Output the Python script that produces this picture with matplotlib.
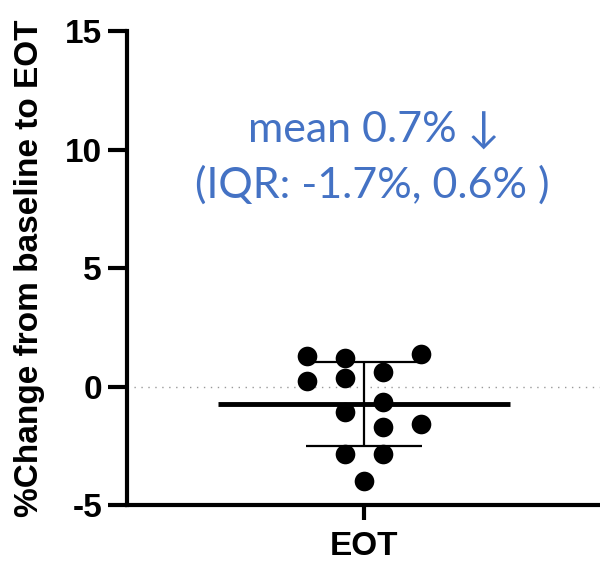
import numpy as np
import matplotlib
matplotlib.use("Agg")
import matplotlib.pyplot as plt

# values (% change, baseline to EOT)
values = [1.29, 1.19, 1.36, 0.23, 0.35, 0.60, -0.64, -1.06, -1.70, -1.58, -2.85, -2.85, -3.97]
# swarm column of each point (in units of one dot spacing)
columns = [-1.5, -0.5, 1.5, -1.5, -0.5, 0.5, 0.5, -0.5, 0.5, 1.5, -0.5, 0.5, 0.0]
category = "EOT"
yticks = [-5, 0, 5, 10, 15]
note = ["mean 0.7% \u2193", "(IQR: -1.7%, 0.6% )"]

vals = np.array(values)
mean = vals.mean()
sd = vals.std(ddof=1)

fig = plt.figure(figsize=(6, 5.67), dpi=100)
ax = fig.add_axes([0.2117, 0.1093, 0.79, 0.836])

spacing = 0.16
ax.axhline(0, color="#999999", lw=1, ls=(0, (1, 4)), zorder=1)
ax.scatter(np.array(columns) * spacing, vals, s=200, color="black", zorder=3, linewidths=0)
ax.plot([-0.616, 0.616], [mean, mean], color="black", lw=3.5, zorder=4, solid_capstyle="butt")
ax.errorbar([0], [mean], yerr=[[sd], [sd]], fmt="none", ecolor="black",
            elinewidth=1.6, capsize=42, capthick=1.6, zorder=4)

lab = dict(fontsize=24, fontweight="bold", family="Liberation Sans")
ax.set_xlim(-1, 1)
ax.set_ylim(-5, 15)
ax.set_yticks(yticks)
ax.set_yticklabels([str(t) for t in yticks], **lab)
ax.set_xticks([0])
ax.set_xticklabels([category], **lab)
ax.set_ylabel("%Change from baseline to EOT", labelpad=14, **lab)

for s in ["top", "right"]:
    ax.spines[s].set_visible(False)
for s in ["left", "bottom"]:
    ax.spines[s].set_linewidth(3)
ax.tick_params(axis="y", length=14, width=3, pad=4)
ax.tick_params(axis="x", length=11, width=3, pad=8)

note_font = ["Lato", "DejaVu Sans"]
ax.text(0.04, 10.85, note[0], ha="center", va="center", fontsize=31,
        color="#4472C4", family=note_font)
ax.text(0.035, 8.5, note[1], ha="center", va="center", fontsize=31,
        color="#4472C4", family=note_font)

fig.savefig("out.png", dpi=100)
